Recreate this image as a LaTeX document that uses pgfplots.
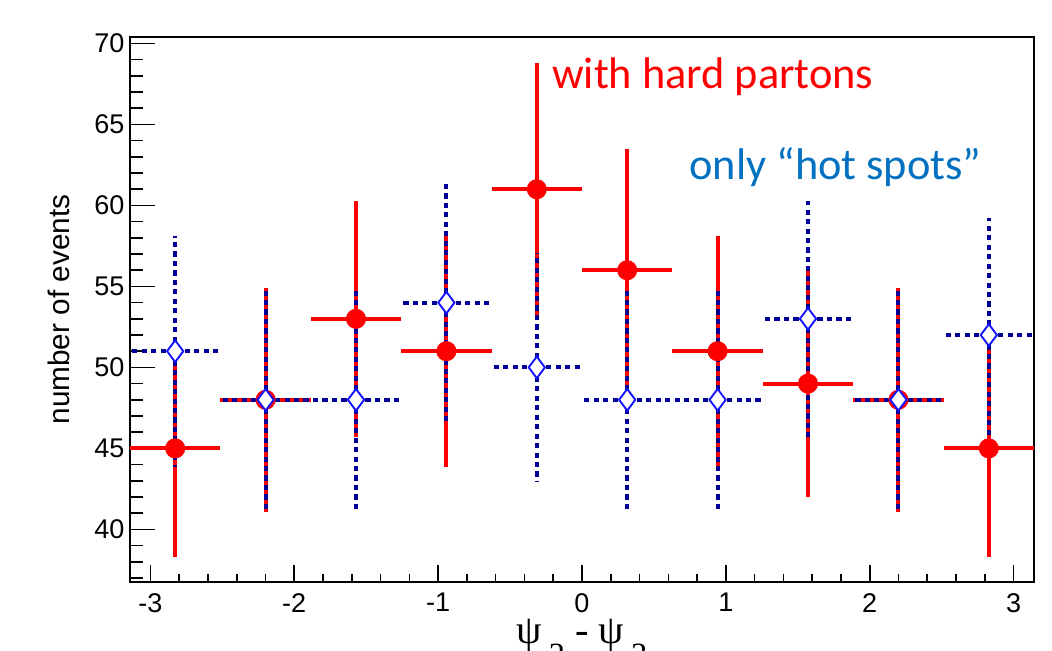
\documentclass[border=0pt]{standalone}
\usepackage{fontspec}
\setmainfont{Liberation Sans}
\newfontfamily\carlito{Carlito}
\newfontfamily\lserif{Liberation Serif}
\usepackage{pgfplots}
\pgfplotsset{compat=1.18}
\usepackage{pgfplotstable}
\definecolor{rootred}{RGB}{255,0,0}
\definecolor{navybar}{RGB}{0,0,153}
\definecolor{diamondblue}{RGB}{20,20,255}
\definecolor{txtblue}{RGB}{0,112,192}

% bin centre, content, half bin width, sqrt(N)
\pgfplotstableread{
x        y   ex      ey
-2.8274  45  0.3142  6.708
-2.1991  48  0.3142  6.928
-1.5708  53  0.3142  7.280
-0.9425  51  0.3142  7.141
-0.3142  61  0.3142  7.810
0.3142   56  0.3142  7.483
0.9425   51  0.3142  7.141
1.5708   49  0.3142  7.000
2.1991   48  0.3142  6.928
2.8274   45  0.3142  6.708
}\hardtab

\pgfplotstableread{
x        y   ex      ey
-2.8274  51  0.3142  7.141
-2.1991  48  0.3142  6.928
-1.5708  48  0.3142  6.928
-0.9425  54  0.3142  7.348
-0.3142  50  0.3142  7.071
0.3142   48  0.3142  6.928
0.9425   48  0.3142  6.928
1.5708   53  0.3142  7.280
2.1991   48  0.3142  6.928
2.8274   52  0.3142  7.211
}\hottab

\begin{document}
\begin{tikzpicture}
\begin{axis}[
  scale only axis,
  width=11.752cm, height=7.085cm,
  xmin=-3.14159, xmax=3.14159, ymin=36.75, ymax=70.4,
  xtick={-3,-2,-1,0,1,2,3},
  xticklabels={-3,-2,-1,0,1,2,3},
  ytick={40,45,50,55,60,65,70},
  minor xtick={-3,-2.8,...,3},
  minor ytick={37,38,...,70},
  tick pos=left, tick align=inside,
  axis line style={line width=1.1pt},
  tick style={black, line width=0.6pt},
  major x tick style={/pgfplots/major tick length=0.22cm},
  minor x tick style={/pgfplots/minor tick length=0.104cm},
  major y tick style={/pgfplots/major tick length=0.325cm},
  minor y tick style={/pgfplots/minor tick length=0.17cm},
  /pgf/number format/assume math mode=true,
  tick label style={font=\fontsize{10}{12}\selectfont},
  yticklabel style={anchor=east, inner sep=0pt, xshift=-0.065cm},
  xticklabel style={anchor=north, inner sep=0pt, yshift=-0.14cm},
]
\coordinate (bl) at (rel axis cs:0,0);
\coordinate (tr) at (rel axis cs:1,1);
\coordinate (lmid) at (rel axis cs:0,0.5);
\coordinate (bmid) at (rel axis cs:0.5,0);

% with hard partons
\addplot[rootred, line width=1.5pt, only marks,
  mark=*, mark size=2.95pt, mark options={fill=rootred, draw=rootred},
  error bars/.cd, x dir=both, x explicit, y dir=both, y explicit,
  error mark=none,
  error bar style={rootred, line width=1.5pt}]
  table[x=x, y=y, x error=ex, y error=ey] {\hardtab};

% only hot spots: error bars, then the open diamonds on top
\addplot[navybar, only marks, mark=none,
  error bars/.cd, x dir=both, x explicit, y dir=both, y explicit,
  error mark=none,
  error bar style={navybar, line width=1.5pt, dash pattern=on 1.9pt off 1.6pt}]
  table[x=x, y=y, x error=ex, y error=ey] {\hottab};
\addplot[only marks, mark=diamond*, mark size=4pt,
  mark options={fill=white, draw=diamondblue, line width=0.7pt, solid}]
  table[x=x, y=y] {\hottab};

\node[anchor=base west, inner sep=0pt, text=rootred,
      font=\carlito\fontsize{16.4}{19}\selectfont]
  at (axis cs:-0.211,67.24) {with hard partons};
\node[anchor=base west, inner sep=0pt, text=txtblue,
      font=\carlito\fontsize{16.4}{19}\selectfont]
  at (axis cs:0.744,61.62) {only “hot spots”};
\end{axis}

\node[rotate=90, anchor=base, inner sep=0pt, font=\fontsize{11}{13}\selectfont]
  at ([xshift=-0.78cm]lmid) {number of events};
\node[anchor=base, inner sep=0pt, font=\lserif\fontsize{15}{17}\selectfont]
  at ([yshift=-0.80cm]bmid)
  {ψ\,\raisebox{-0.55em}{\fontsize{12}{14}\selectfont 2} - ψ\,\raisebox{-0.55em}{\fontsize{12}{14}\selectfont 3}};

\pgfresetboundingbox
\path[use as bounding box] ([shift={(-1.69cm,-0.884cm)}]bl)
  rectangle ([shift={(0.234cm,0.481cm)}]tr);
\end{tikzpicture}
\end{document}
